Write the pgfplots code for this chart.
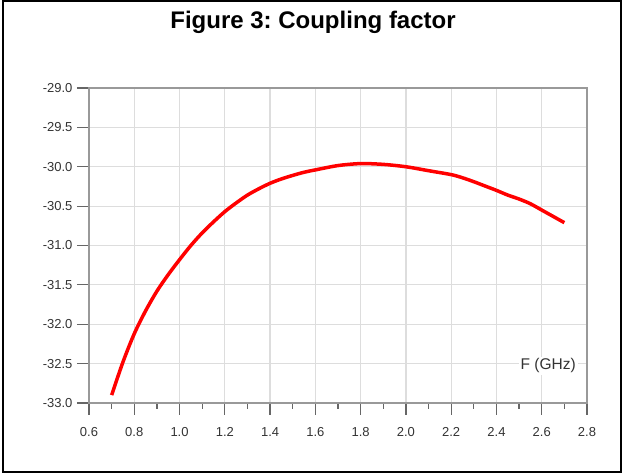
\documentclass[border=0pt]{standalone}
\usepackage{fontspec}
\setmainfont{Liberation Sans}
\usepackage{pgfplots}
\pgfplotsset{compat=1.18}

\definecolor{gridgray}{HTML}{DDDDDD}
\definecolor{boxgray}{HTML}{999999}
\definecolor{tickgray}{HTML}{666666}

\begin{document}
\frenchspacing
\begin{tikzpicture}
\useasboundingbox (0,0) rectangle (626bp,475bp);
\draw[line width=2.5bp] (3bp,3bp) rectangle (621bp,474bp);
\node[anchor=base, font=\fontsize{24bp}{28bp}\selectfont\bfseries] at (313bp,446bp) {Figure 3: Coupling factor};

\begin{axis}[
  at={(89bp,72bp)}, anchor=south west,
  scale only axis,
  width=498bp, height=315bp,
  xmin=0.6, xmax=2.8,
  ymin=-33, ymax=-29,
  xtick={0.6,0.8,...,2.8},
  minor xtick={0.7,0.9,...,2.7},
  ytick={-33,-32.5,...,-29},
  grid=major,
  major grid style={gridgray, line width=1.2bp},
  axis line style={boxgray, line width=1.2bp},
  tick align=outside,
  tick style={tickgray, line width=1.2bp},
  major tick length=12bp,
  minor tick length=6bp,
  xtick pos=bottom, ytick pos=left,
  /pgf/number format/assume math mode=true,
  /pgf/number format/fixed,
  /pgf/number format/fixed zerofill,
  /pgf/number format/precision=1,
  ticklabel style={font=\fontsize{13bp}{15bp}\selectfont, text=black!80},
  xticklabel style={yshift=-9bp},
  yticklabel style={xshift=-1bp},
]
\addplot[red, line width=3.5bp, smooth, tension=0.5] coordinates {
  (0.70,-32.90) (0.75,-32.48) (0.80,-32.12) (0.85,-31.83) (0.90,-31.58)
  (0.95,-31.37) (1.00,-31.18) (1.05,-31.00) (1.10,-30.84) (1.15,-30.70)
  (1.20,-30.57) (1.25,-30.46) (1.30,-30.36) (1.35,-30.28) (1.40,-30.21)
  (1.45,-30.155) (1.50,-30.11) (1.55,-30.07) (1.60,-30.04) (1.70,-29.985)
  (1.80,-29.96) (1.90,-29.97) (2.00,-30.00) (2.10,-30.05) (2.20,-30.10)
  (2.25,-30.14) (2.30,-30.19) (2.35,-30.245) (2.40,-30.30) (2.45,-30.36)
  (2.50,-30.41) (2.55,-30.47) (2.60,-30.55) (2.65,-30.63) (2.70,-30.71)
};
\node[anchor=base, font=\fontsize{15.5bp}{18bp}\selectfont, text=black!80]
  at (rel axis cs:0.149,1.015) {Coupling factor (dB)};
\node[fill=white, inner sep=2bp, font=\fontsize{15.5bp}{18bp}\selectfont, text=black!80]
  at (rel axis cs:0.922,0.118) {F (GHz)};
\end{axis}
\end{tikzpicture}
\end{document}
